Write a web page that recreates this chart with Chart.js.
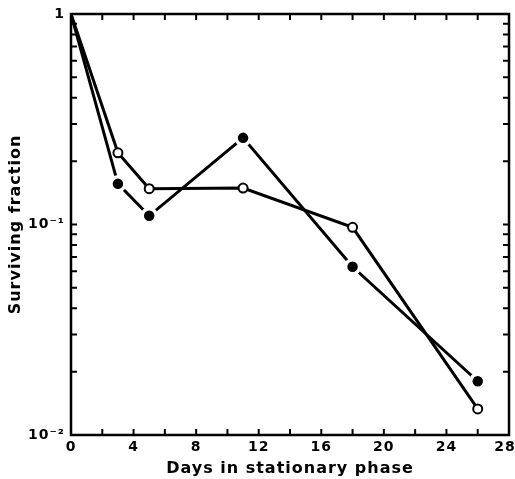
<!DOCTYPE html>
<html>
<head>
<meta charset="utf-8">
<script src="https://cdn.jsdelivr.net/npm/chart.js@4/dist/chart.umd.min.js"></script>
<style>
  html, body { margin: 0; padding: 0; background: #fff; }
</style>
</head>
<body>
<canvas id="c" width="515" height="479"></canvas>
<script>
  // values
  const days = [0, 3, 5, 11, 18, 26];
  const filledFraction = [1, 0.156, 0.110, 0.258, 0.063, 0.018];
  const openFraction = [1, 0.219, 0.148, 0.149, 0.097, 0.0133];

  const xTicks = [0, 4, 8, 12, 16, 20, 24, 28];
  const xMinorTicks = [2, 6, 10, 14, 18, 22, 26];
  const yTicks = [0.01, 0.1, 1];
  const yTickLabels = ['10\u207B\u00B2', '10\u207B\u00B9', '1'];

  const FONT = 'DejaVu Sans';

  const toPoints = ys => days.map((d, i) => ({ x: d, y: ys[i] }));

  // the original lettering is wide, space it out a little
  const spacingPlugin = {
    id: 'spacing',
    beforeUpdate(chart) { chart.ctx.letterSpacing = '1px'; },
    beforeDraw(chart) { chart.ctx.letterSpacing = '1px'; },
  };

  // inward ticks on all four sides + frame
  const framePlugin = {
    id: 'frame',
    afterDraw(chart) {
      const { ctx, chartArea: a, scales } = chart;
      const xs = scales.x, ys = scales.y;
      const len = 6;
      ctx.save();
      ctx.strokeStyle = '#000';
      ctx.lineWidth = 2.5;
      ctx.strokeRect(a.left, a.top, a.right - a.left, a.bottom - a.top);
      ctx.lineWidth = 2;
      ctx.beginPath();
      xTicks.concat(xMinorTicks).forEach(v => {
        const px = xs.getPixelForValue(v);
        ctx.moveTo(px, a.bottom); ctx.lineTo(px, a.bottom - len);
        ctx.moveTo(px, a.top); ctx.lineTo(px, a.top + len);
      });
      const yMinor = [];
      [0.01, 0.1].forEach(dec => { for (let m = 2; m <= 9; m++) yMinor.push(dec * m); });
      yTicks.concat(yMinor).forEach(v => {
        const py = ys.getPixelForValue(v);
        ctx.moveTo(a.left, py); ctx.lineTo(a.left + len, py);
        ctx.moveTo(a.right, py); ctx.lineTo(a.right - len, py);
      });
      ctx.stroke();
      ctx.restore();
    }
  };

  new Chart(document.getElementById('c'), {
    type: 'line',
    data: {
      datasets: [
        {
          label: 'filled',
          data: toPoints(filledFraction),
          borderColor: '#000',
          borderWidth: 3,
          pointRadius: [0, 7, 7, 7, 7, 7],
          pointBackgroundColor: '#000',
          pointBorderColor: '#fff',
          pointBorderWidth: 3.5,
          tension: 0,
        },
        {
          label: 'open',
          data: toPoints(openFraction),
          borderColor: '#000',
          borderWidth: 3,
          pointRadius: [0, 4.5, 4.5, 4.5, 4.5, 4.5],
          pointBackgroundColor: '#fff',
          pointBorderColor: '#000',
          pointBorderWidth: 2,
          tension: 0,
        },
      ],
    },
    options: {
      responsive: false,
      animation: false,
      devicePixelRatio: 1,
      layout: { autoPadding: false, padding: { top: 14, right: 6, left: 0, bottom: 0 } },
      plugins: { legend: { display: false }, tooltip: { enabled: false } },
      scales: {
        x: {
          type: 'linear',
          min: 0,
          max: 28,
          afterBuildTicks: s => { s.ticks = xTicks.map(v => ({ value: v })); },
          afterFit: s => { s.height = 44; s.paddingLeft = 0; s.paddingRight = 0; },
          grid: { display: false, drawTicks: false },
          border: { display: false },
          ticks: {
            color: '#000',
            padding: 4,
            maxRotation: 0,
            font: { family: FONT, size: 14, weight: 'bold' },
            // last label sits against the page edge, nudge it left
            callback: v => (v === 28 ? v + '\u2002' : String(v)),
          },
          title: {
            display: true,
            text: 'Days in stationary phase',
            color: '#000',
            font: { family: FONT, size: 16, weight: 'bold' },
            padding: { top: 0, bottom: 1 },
          },
        },
        y: {
          type: 'logarithmic',
          min: 0.01,
          max: 1,
          afterBuildTicks: s => { s.ticks = yTicks.map(v => ({ value: v })); },
          afterFit: s => { s.width = 71; s.paddingTop = 0; s.paddingBottom = 0; },
          grid: { display: false, drawTicks: false },
          border: { display: false },
          ticks: {
            color: '#000',
            padding: 6,
            font: { family: FONT, size: 14, weight: 'bold' },
            callback: v => yTickLabels[yTicks.findIndex(t => Math.abs(t - v) < t * 1e-6)],
          },
          title: {
            display: true,
            text: 'Surviving fraction',
            color: '#000',
            font: { family: FONT, size: 16, weight: 'bold' },
            padding: { top: 6, bottom: 0 },
          },
        },
      },
    },
    plugins: [spacingPlugin, framePlugin],
  });
</script>
</body>
</html>
